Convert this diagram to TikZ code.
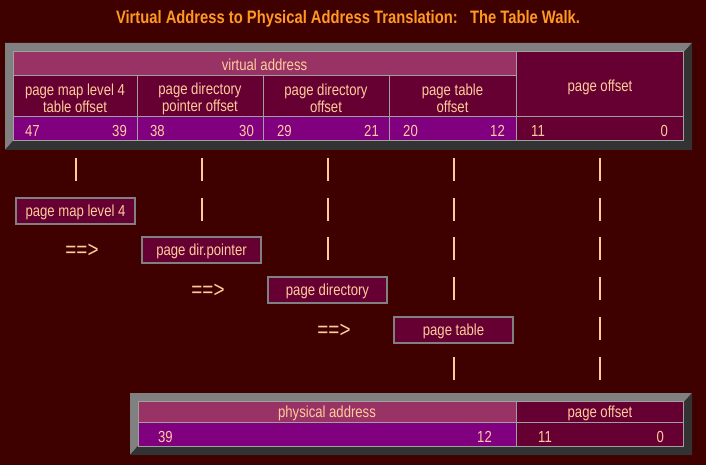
\documentclass[tikz,border=0pt]{standalone}
\usepackage{fontspec}
\setmainfont{Liberation Sans}[FakeStretch=0.82]
\usepackage{xcolor}

\definecolor{bgmaroon}{HTML}{3F0000}
\definecolor{titleorange}{HTML}{FF9922}
\definecolor{peach}{HTML}{FFCC99}
\definecolor{hdrpink}{HTML}{993366}
\definecolor{celldark}{HTML}{660033}
\definecolor{bitpurple}{HTML}{800080}
\definecolor{bevellight}{HTML}{808080}
\definecolor{beveldark}{HTML}{333333}
\definecolor{cellline}{HTML}{A0A0A0}

% bevelled table frame: x1,y1,x2,y2
\newcommand\bevelframe[4]{%
  \fill[bevellight] (#1,#2) -- (#3,#2) -- ({#3-8},{#2+9}) -- ({#1+8},{#2+9})
    -- ({#1+8},{#4-9}) -- (#1,#4) -- cycle;
  \fill[beveldark] (#3,#2) -- (#3,#4) -- (#1,#4) -- ({#1+8},{#4-9})
    -- ({#3-8},{#4-9}) -- ({#3-8},{#2+9}) -- cycle;}

\tikzset{
  lbl/.style = {text=peach, font=\fontsize{16}{17}\selectfont, inner sep=0pt},
  cellbox/.style = {draw=cellline, line width=1pt},
  bar/.style = {draw=peach, line width=2.6pt},
  walkbox/.style = {lbl, fill=celldark, draw=bevellight, line width=2pt,
    minimum width=119pt, minimum height=26pt, text depth=0.5pt},
}

\begin{document}
\begin{tikzpicture}[x=1pt,y=-1pt]
  \fill[bgmaroon] (0,0) rectangle (706,465);
  \useasboundingbox (0,0) rectangle (706,465);

  \node[text=titleorange, font=\bfseries\fontsize{18}{19}\selectfont] (title) at (348,19)
    {Virtual Address to Physical Address Translation:\ \ \ The Table Walk.};

  % virtual address table
  \bevelframe{5}{43}{692}{150}
  \filldraw[cellbox, fill=hdrpink] (13,52) rectangle (516,76);
  \filldraw[cellbox, fill=celldark] (516,52) rectangle (683,117);
  \foreach \xa/\xb in {13/137, 137/263, 263/389, 389/516} {
    \filldraw[cellbox, fill=celldark] (\xa,76) rectangle (\xb,117);
    \filldraw[cellbox, fill=bitpurple] (\xa,117) rectangle (\xb,141);
  }
  \filldraw[cellbox, fill=celldark] (516,117) rectangle (683,141);

  \node[lbl] (va) at (264.5,65) {virtual address};
  \node[lbl, align=center] (pmlo) at (75,98.5) {page map level 4\\table offset};
  \node[lbl, align=center] (pdpo) at (200,98.5) {page directory\\pointer offset};
  \node[lbl, align=center] (pdo) at (326,98.5) {page directory\\offset};
  \node[lbl, align=center] (pto) at (452.5,98.5) {page table\\offset};
  \node[lbl] (vpo) at (600,87) {page offset};

  \node[lbl, anchor=west] (b47) at (25,131) {47};
  \node[lbl, anchor=east] (b39) at (127,131) {39};
  \node[lbl, anchor=west] (b38) at (150,131) {38};
  \node[lbl, anchor=east] (b30) at (254,131) {30};
  \node[lbl, anchor=west] (b29) at (277,131) {29};
  \node[lbl, anchor=east] (b21) at (379,131) {21};
  \node[lbl, anchor=west] (b20) at (403,131) {20};
  \node[lbl, anchor=east] (b12) at (505,131) {12};
  \node[lbl, anchor=west] (b11) at (531,131) {11};
  \node[lbl, anchor=east] (b0) at (668,131) {0};

  % bars
  \foreach \y in {158,198,237,277,317,357} \draw[bar] (600,\y) -- ++(0,23);
  \foreach \y in {158,198,237,277,357} \draw[bar] (454,\y) -- ++(0,23);
  \foreach \y in {158,198,237} \draw[bar] (328,\y) -- ++(0,23);
  \foreach \y in {158,198} \draw[bar] (202,\y) -- ++(0,23);
  \draw[bar] (76,158) -- ++(0,23);

  % table walk
  \node[walkbox] (pml4) at (75.5,211) {page map level 4};
  \node[walkbox] (pdp) at (201.5,250) {page dir.pointer};
  \node[walkbox] (pd) at (327.5,290) {page directory};
  \node[walkbox] (pt) at (453.5,329.5) {page table};

  \node[lbl, font=\fontsize{23}{24}\selectfont] (arr1) at (82,251) {==>};
  \node[lbl, font=\fontsize{23}{24}\selectfont] (arr2) at (208,291) {==>};
  \node[lbl, font=\fontsize{23}{24}\selectfont] (arr3) at (334,331) {==>};

  % physical address table
  \bevelframe{130}{393}{692}{455}
  \filldraw[cellbox, fill=hdrpink] (138,401) rectangle (516,422);
  \filldraw[cellbox, fill=celldark] (516,401) rectangle (683,422);
  \filldraw[cellbox, fill=bitpurple] (138,422) rectangle (516,446);
  \filldraw[cellbox, fill=celldark] (516,422) rectangle (683,446);

  \node[lbl] (pa) at (327,413) {physical address};
  \node[lbl] (ppo) at (600,413) {page offset};
  \node[lbl, anchor=west] (p39) at (158,437) {39};
  \node[lbl, anchor=east] (p12) at (492,437) {12};
  \node[lbl, anchor=west] (p11) at (538,437) {11};
  \node[lbl, anchor=east] (p0) at (664,437) {0};
\end{tikzpicture}
\end{document}
